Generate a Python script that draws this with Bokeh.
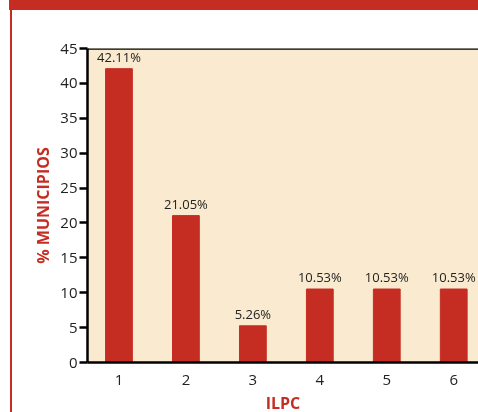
from bokeh.plotting import figure
from bokeh.models import Range1d, FixedTicker, Span, ColumnDataSource, LabelSet, InlineStyleSheet
from bokeh.core.properties import value
from bokeh.embed import file_html
from bokeh.resources import INLINE

categories = [1, 2, 3, 4, 5, 6]
values = [42.11, 21.05, 5.26, 10.53, 10.53, 10.53]
labels = ["42.11%", "21.05%", "5.26%", "10.53%", "10.53%", "10.53%"]
y_ticks = [0, 5, 10, 15, 20, 25, 30, 35, 40, 45]

RED = "#C62D22"
BEIGE = "#FAEBD0"
FONT = "Open Sans"

p = figure(width=478, height=416, output_backend="svg", toolbar_location=None,
           x_range=Range1d(0.53, 6.37), y_range=Range1d(0, 45),
           min_border_left=87, min_border_top=48, min_border_bottom=54, min_border_right=0)
css = f"""
:host {{ position: fixed !important; top: 0px !important; left: 0px !important; }}
:host::before {{ content: ''; position: absolute; left: 9px; top: 0px; width: 469px; height: 10px;
                background: {RED}; z-index: 10; }}
:host::after {{ content: ''; position: absolute; left: 10px; top: 10px; width: 2px; height: 402px;
               background: {RED}; z-index: 10; }}
"""
p.stylesheets = [InlineStyleSheet(css=css)]
p.background_fill_color = BEIGE
p.border_fill_color = "white"
p.outline_line_color = None
p.grid.visible = False

src = ColumnDataSource(dict(x=categories, y=values, lab=labels))
p.vbar(x="x", top="y", width=0.4, source=src, color=RED)
p.add_layout(LabelSet(x="x", y="y", text="lab", source=src, text_align="center",
                      text_baseline="bottom", y_offset=3, text_font=value(FONT),
                      text_font_size=value("13px"), text_color="#222222"))

p.add_layout(Span(location=45, dimension="width", line_color="black", line_width=2.5))

p.xaxis.ticker = FixedTicker(ticks=categories)
p.yaxis.ticker = FixedTicker(ticks=y_ticks)
for ax in (p.xaxis, p.yaxis):
    ax.axis_line_width = 2.5
    ax.axis_line_color = "black"
    ax.major_label_text_font = FONT
    ax.major_label_text_font_size = "15px"
    ax.major_label_text_color = "#222222"
    ax.minor_tick_line_color = None
    ax.axis_label_text_font = FONT
    ax.axis_label_text_font_style = "bold"
    ax.axis_label_text_font_size = "16px"
    ax.axis_label_text_color = RED
p.xaxis.major_tick_line_color = None
p.xaxis.major_label_standoff = 6
p.xaxis.axis_label = "ILPC"
p.xaxis.axis_label_standoff = 4
p.yaxis.major_tick_line_width = 2.5
p.yaxis.major_tick_out = 8
p.yaxis.major_tick_in = 0
p.yaxis.major_label_standoff = 2
p.yaxis.axis_label = "% MUNICIPIOS"
p.yaxis.axis_label_standoff = 3

open("out.html", "w").write(file_html(p, INLINE))
